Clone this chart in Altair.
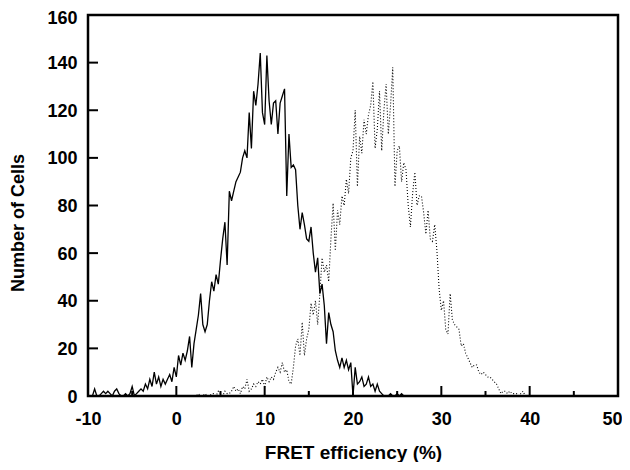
import altair as alt
import pandas as pd
import numpy as np

# ---- data ----
bin_step = 0.25

solid_start = -10.0
solid_counts = [
    0, 0, 0, 3, 0, 0, 1, 2, 1, 2, 1, 0, 2, 3, 1, 0, 0, 1, 0, 1,
    4, 0, 1, 2, 3, 2, 5, 3, 7, 4, 10, 5, 8, 4, 7, 5, 7, 9, 6, 12,
    8, 17, 13, 18, 15, 19, 25, 12, 22, 28, 34, 43, 30, 27, 30, 40, 48, 44, 51, 47,
    57, 66, 73, 55, 86, 82, 86, 90, 92, 94, 100, 103, 100, 119, 104, 128, 122, 131, 144, 119,
    114, 143, 124, 114, 123, 124, 110, 123, 126, 129, 84, 110, 96, 97, 95, 80, 70, 77, 72, 66,
    65, 71, 60, 52, 58, 43, 47, 38, 22, 35, 30, 27, 19, 15, 12, 16, 12, 15, 11, 14,
    0, 12, 5, 6, 8, 4, 5, 8, 4, 5, 2, 5, 2, 1, 0, 0, 0, 1, 0, 0,
    1, 0, 1, 0, 0,
]

dotted_start = 2.0
dotted_counts = [
    0, 0, 1, 0, 0, 1, 0, 0, 1, 1, 0, 2,
    1, 0, 2, 1, 1, 2, 4, 2, 3, 1, 4, 3, 7, 2, 3, 5, 4, 6, 5, 7,
    4, 8, 6, 8, 7, 10, 12, 10, 14, 10, 11, 6, 5, 12, 21, 24, 17, 31, 17, 24,
    28, 39, 34, 40, 30, 43, 58, 52, 55, 48, 66, 81, 61, 78, 72, 84, 80, 91, 85, 100,
    103, 120, 88, 109, 102, 116, 110, 118, 122, 132, 104, 112, 128, 103, 120, 131, 110, 122, 138, 88,
    103, 105, 90, 98, 95, 80, 71, 85, 94, 80, 84, 84, 77, 68, 78, 66, 65, 72, 61, 45,
    36, 40, 28, 26, 43, 32, 30, 29, 28, 21, 22, 18, 16, 14, 12, 13, 13, 10, 9, 10,
    9, 8, 8, 7, 6, 5, 3, 1, 2, 2, 1, 2, 1, 1, 1, 0, 1, 2, 0, 0,
    0,
]

x_major = [-10, 0, 10, 20, 30, 40, 50]
x_minor = [-5, 5, 15, 25, 35, 45]
y_major = [0, 20, 40, 60, 80, 100, 120, 140, 160]

x_title = "FRET efficiency (%)"
y_title = "Number of Cells"

# ---- tables ----
solid_df = pd.DataFrame({
    "fret": solid_start + bin_step * np.arange(len(solid_counts)),
    "cells": solid_counts,
})
dotted_df = pd.DataFrame({
    "fret": dotted_start + bin_step * np.arange(len(dotted_counts)),
    "cells": dotted_counts,
})
xmaj_df = pd.DataFrame({"fret": [v for v in x_major if v not in (x_major[0], x_major[-1])]})
xmin_df = pd.DataFrame({"fret": x_minor})
ymaj_df = pd.DataFrame({"cells": [v for v in y_major if v not in (y_major[0], y_major[-1])]})

W, H = 530, 381
FONT = "Liberation Sans"

xscale = alt.Scale(domain=[x_major[0], x_major[-1]], nice=False, zero=False)
yscale = alt.Scale(domain=[y_major[0], y_major[-1]], nice=False, zero=False)

xaxis = alt.Axis(
    values=x_major, ticks=False, grid=False, domain=False,
    labelExpr="'' + datum.value",
    labelFont=FONT, labelFontSize=18, labelFontWeight="bold", labelColor="black",
    labelPadding=23, labelFlush=False, labelBaseline="middle",
    labelOffset={"condition": {"test": f"datum.value == {x_major[-1]}", "value": -6}, "value": 0},
    title=x_title, titleFont=FONT, titleFontSize=19, titleFontWeight="bold",
    titleColor="black", titleBaseline="alphabetic", titleY=62,
)
yaxis = alt.Axis(
    values=y_major, ticks=False, grid=False, domain=False,
    labelFont=FONT, labelFontSize=18, labelFontWeight="bold", labelColor="black",
    labelPadding=11, labelFlush=False, labelBaseline="middle",
    labelOffset={"condition": {"test": f"datum.value == {y_major[-1]}", "value": 3}, "value": 1},
    title=y_title, titleFont=FONT, titleFontSize=18, titleFontWeight="bold",
    titleColor="black", titleAngle=270, titleAlign="center", titleBaseline="middle",
    titleX=-70, titleY=H / 2 + 17,
)

solid = alt.Chart(solid_df).mark_line(color="black", strokeWidth=1.3).encode(
    x=alt.X("fret:Q", scale=xscale, axis=xaxis),
    y=alt.Y("cells:Q", scale=yscale, axis=yaxis),
)
dotted = alt.Chart(dotted_df).mark_line(color="black", strokeWidth=1.1, strokeDash=[1, 2]).encode(
    x=alt.X("fret:Q", scale=xscale, axis=xaxis),
    y=alt.Y("cells:Q", scale=yscale, axis=yaxis),
)
xmaj = alt.Chart(xmaj_df).mark_rule(color="black", strokeWidth=2).encode(
    x=alt.X("fret:Q", scale=xscale, axis=xaxis),
    y=alt.value(H), y2=alt.value(H - 10),
)
xmin = alt.Chart(xmin_df).mark_rule(color="black", strokeWidth=2).encode(
    x=alt.X("fret:Q", scale=xscale, axis=xaxis),
    y=alt.value(H), y2=alt.value(H - 5),
)
ymaj = alt.Chart(ymaj_df).mark_rule(color="black", strokeWidth=2).encode(
    y=alt.Y("cells:Q", scale=yscale, axis=yaxis),
    x=alt.value(0), x2=alt.value(10),
)

chart = alt.layer(solid, dotted, xmaj, xmin, ymaj).properties(
    width=W, height=H,
    padding={"left": 80, "top": 7, "right": 4, "bottom": 66},
    autosize=alt.AutoSizeParams(type="none"),
    background="white",
).configure_view(stroke="black", strokeWidth=2.5)

chart.save("out.html", embed_options={"renderer": "svg", "actions": False})
